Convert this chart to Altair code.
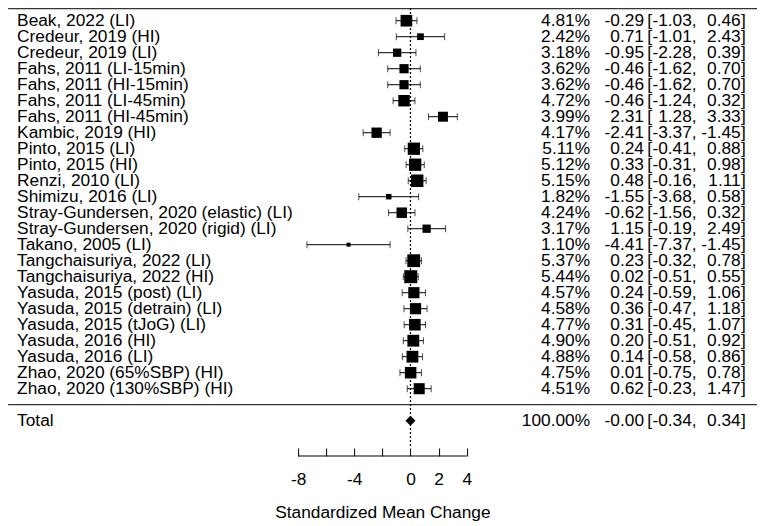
import altair as alt
import pandas as pd

# ---------------- data ----------------
labels = [
    "Beak, 2022 (LI)",
    "Credeur, 2019 (HI)",
    "Credeur, 2019 (LI)",
    "Fahs, 2011 (LI-15min)",
    "Fahs, 2011 (HI-15min)",
    "Fahs, 2011 (LI-45min)",
    "Fahs, 2011 (HI-45min)",
    "Kambic, 2019 (HI)",
    "Pinto, 2015 (LI)",
    "Pinto, 2015 (HI)",
    "Renzi, 2010 (LI)",
    "Shimizu, 2016 (LI)",
    "Stray-Gundersen, 2020 (elastic) (LI)",
    "Stray-Gundersen, 2020 (rigid) (LI)",
    "Takano, 2005 (LI)",
    "Tangchaisuriya, 2022 (LI)",
    "Tangchaisuriya, 2022 (HI)",
    "Yasuda, 2015 (post) (LI)",
    "Yasuda, 2015 (detrain) (LI)",
    "Yasuda, 2015 (tJoG) (LI)",
    "Yasuda, 2016 (HI)",
    "Yasuda, 2016 (LI)",
    "Zhao, 2020 (65%SBP) (HI)",
    "Zhao, 2020 (130%SBP) (HI)",
]
weights = [4.81, 2.42, 3.18, 3.62, 3.62, 4.72, 3.99, 4.17, 5.11, 5.12, 5.15, 1.82,
           4.24, 3.17, 1.10, 5.37, 5.44, 4.57, 4.58, 4.77, 4.90, 4.88, 4.75, 4.51]
estimates = [-0.29, 0.71, -0.95, -0.46, -0.46, -0.46, 2.31, -2.41, 0.24, 0.33, 0.48, -1.55,
             -0.62, 1.15, -4.41, 0.23, 0.02, 0.24, 0.36, 0.31, 0.20, 0.14, 0.01, 0.62]
ci_lower = [-1.03, -1.01, -2.28, -1.62, -1.62, -1.24, 1.28, -3.37, -0.41, -0.31, -0.16, -3.68,
            -1.56, -0.19, -7.37, -0.32, -0.51, -0.59, -0.47, -0.45, -0.51, -0.58, -0.75, -0.23]
ci_upper = [0.46, 2.43, 0.39, 0.70, 0.70, 0.32, 3.33, -1.45, 0.88, 0.98, 1.11, 0.58,
            0.32, 2.49, -1.45, 0.78, 0.55, 1.06, 1.18, 1.07, 0.92, 0.86, 0.78, 1.47]

total_label = "Total"
total_weight = 100.00
total_est = -0.0
total_lower = -0.34
total_upper = 0.34

axis_ticks = [-8, -6, -4, -2, 0, 2, 4]
axis_labelled = [-8, -4, 0, 2, 4]
null_effect = [0]
x_title = "Standardized Mean Change"

# ---------------- tables ----------------
n = len(labels)
studies = pd.DataFrame({
    "label": labels, "w": weights, "est": estimates, "lo": ci_lower, "hi": ci_upper,
    "row": list(range(n)), "kind": "study",
})
total = pd.DataFrame({
    "label": [total_label], "w": [total_weight], "est": [total_est],
    "lo": [total_lower], "hi": [total_upper], "row": [n + 1], "kind": "total",
})
allrows = pd.concat([studies, total], ignore_index=True)
allrows["wtxt"] = allrows["w"].map(lambda v: f"{v:.2f}%")
allrows["etxt"] = allrows["est"].map(lambda v: f"{v:.2f}")
allrows["lotxt"] = allrows["lo"].map(lambda v: f"{v:.2f},")
allrows["hitxt"] = allrows["hi"].map(lambda v: f"{v:.2f}")

lines_df = pd.DataFrame({"row": [-0.75, n]})
ref_df = pd.DataFrame({"x": null_effect})
dom_df = pd.DataFrame({"a": [min(axis_ticks)], "b": [max(axis_ticks)]})

# ---------------- layout ----------------
W = 168.6
H = 440
FONT = "Liberation Sans"
FS = 17.3

xscale = alt.Scale(domain=[min(axis_ticks), max(axis_ticks)], nice=False, zero=False)
labelled = " || ".join(f"datum.value == {v}" for v in axis_labelled)
xaxis = alt.Axis(
    values=axis_ticks,
    labelExpr=f"({labelled}) ? toString(datum.value) : ''",
    domain=False, ticks=True, tickSize=8, tickColor="black", tickWidth=1,
    grid=False, labelFont=FONT, labelFontSize=FS, labelColor="black",
    labelBaseline="middle", labelPadding=24, labelFlush=False,
    title=x_title, titleFont=FONT, titleFontSize=FS, titleFontWeight="normal",
    titleColor="black", titleY=65, titleBaseline="middle",
)


def xenc(field):
    return alt.X(f"{field}:Q", scale=xscale, axis=xaxis)


yenc = alt.Y("row:Q", scale=alt.Scale(domain=[-0.794, 26.706], reverse=True, nice=False, zero=False),
             axis=None)

base = alt.Chart(allrows)
stud = base.transform_filter(alt.datum.kind == "study")

hlines = alt.Chart(lines_df).mark_rule(color="black", strokeWidth=1).encode(
    x=alt.value(-290), x2=alt.value(460), y=yenc)

refline = alt.Chart(ref_df).mark_rule(color="black", strokeWidth=1.2, strokeDash=[2, 2]).encode(
    x=xenc("x"), y=alt.value(0), y2=alt.value(H))

domline = alt.Chart(dom_df).mark_rule(color="black", strokeWidth=1).encode(
    x=xenc("a"), x2="b:Q", y=alt.value(H + 8))

ebar = stud.mark_rule(color="black", strokeWidth=1).encode(x=xenc("lo"), x2="hi:Q", y=yenc)
cap_lo = stud.mark_tick(orient="vertical", size=7, thickness=1, color="black").encode(x=xenc("lo"), y=yenc)
cap_hi = stud.mark_tick(orient="vertical", size=7, thickness=1, color="black").encode(x=xenc("hi"), y=yenc)

squares = stud.transform_calculate(sz="pow(1.7 + 2.07*datum.w, 2)").mark_square(
    color="black", opacity=1, filled=True).encode(
    x=xenc("est"), y=yenc, size=alt.Size("sz:Q", scale=None, legend=None))

diamond = base.transform_filter(alt.datum.kind == "total").mark_point(
    shape="diamond", filled=True, color="black", opacity=1, size=100).encode(x=xenc("est"), y=yenc)


def txt(field, xpos, align):
    return base.mark_text(align=align, baseline="middle", font=FONT, fontSize=FS, color="black").encode(
        x=alt.value(xpos), y=yenc, text=f"{field}:N")


def const_txt(s, xpos):
    return base.mark_text(align="left", baseline="middle", font=FONT, fontSize=FS, color="black").encode(
        x=alt.value(xpos), y=yenc, text=alt.value(s))


texts = [
    txt("label", -281, "left"),
    txt("wtxt", 292, "right"),
    txt("etxt", 345.9, "right"),
    const_txt("[", 349.2),
    txt("lotxt", 398.5, "right"),
    txt("hitxt", 442.6, "right"),
    const_txt("]", 442.9),
]

chart = alt.layer(hlines, refline, domline, ebar, cap_lo, cap_hi, squares, diamond, *texts).properties(
    width=W, height=H,
    autosize=alt.AutoSizeParams(type="none"),
    padding={"left": 290.1, "top": 0, "right": 290, "bottom": 75},
    background="white",
).configure_view(stroke=None)

chart.save("out.html", embed_options={"renderer": "svg", "actions": False})
